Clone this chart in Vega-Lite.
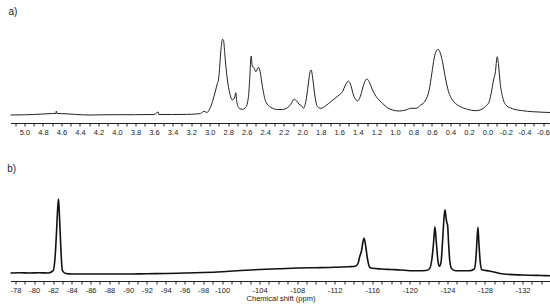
{
  "$schema": "https://vega.github.io/schema/vega-lite/v6.json",
  "padding": {"left": 6.5, "top": 7, "right": 2, "bottom": 2},
  "background": "white",
  "spacing": 28,
  "config": {
    "view": {"stroke": null},
    "font": "Liberation Sans",
    "axis": {
      "domainColor": "#222", "tickColor": "#222", "tickSize": 3, "labelFontSize": 7.5,
      "labelColor": "#222", "labelPadding": 2, "labelOverlap": false, "labelFlush": false,
      "grid": false, "titleFontSize": 7.5, "titleFontWeight": "normal", "titleColor": "#222", "titlePadding": 1
    },
    "title": {"anchor": "start", "fontSize": 10, "fontWeight": "normal", "color": "#222", "offset": 8}
  },
  "datasets": {
    "h": [
      {"ppm": 5.15, "i": 0}, {"ppm": 5.0, "i": 0.2}, {"ppm": 4.9, "i": 0.5}, {"ppm": 4.8, "i": 1.0},
      {"ppm": 4.7, "i": 1.5}, {"ppm": 4.66, "i": 1.6}, {"ppm": 4.655, "i": 4}, {"ppm": 4.65, "i": 1.6},
      {"ppm": 4.55, "i": 1.2}, {"ppm": 4.45, "i": 0.6}, {"ppm": 4.3, "i": 0}, {"ppm": 4.15, "i": 0.2},
      {"ppm": 4.0, "i": 0.3}, {"ppm": 3.8, "i": 0.3}, {"ppm": 3.6, "i": 0.5}, {"ppm": 3.555, "i": 3},
      {"ppm": 3.55, "i": 0.5}, {"ppm": 3.4, "i": 0.5}, {"ppm": 3.25, "i": 0.6}, {"ppm": 3.15, "i": 1},
      {"ppm": 3.1, "i": 1.5}, {"ppm": 3.06, "i": 3.7}, {"ppm": 3.03, "i": 2.5}, {"ppm": 3.0, "i": 6},
      {"ppm": 2.97, "i": 13.3}, {"ppm": 2.94, "i": 23}, {"ppm": 2.916, "i": 31.7}, {"ppm": 2.905, "i": 35},
      {"ppm": 2.897, "i": 41.7}, {"ppm": 2.88, "i": 63}, {"ppm": 2.862, "i": 75.7}, {"ppm": 2.851, "i": 75},
      {"ppm": 2.837, "i": 61.7}, {"ppm": 2.826, "i": 50}, {"ppm": 2.808, "i": 35}, {"ppm": 2.783, "i": 21.7},
      {"ppm": 2.754, "i": 15}, {"ppm": 2.729, "i": 18}, {"ppm": 2.718, "i": 22.3}, {"ppm": 2.707, "i": 13.3},
      {"ppm": 2.681, "i": 6.7}, {"ppm": 2.646, "i": 5.7}, {"ppm": 2.61, "i": 7.7}, {"ppm": 2.581, "i": 18.3},
      {"ppm": 2.567, "i": 36.7}, {"ppm": 2.552, "i": 59}, {"ppm": 2.538, "i": 48.3}, {"ppm": 2.524, "i": 47.7},
      {"ppm": 2.502, "i": 43.3}, {"ppm": 2.473, "i": 47.7}, {"ppm": 2.455, "i": 43.3}, {"ppm": 2.43, "i": 28.3},
      {"ppm": 2.394, "i": 13.3}, {"ppm": 2.34, "i": 7.7}, {"ppm": 2.268, "i": 5.5}, {"ppm": 2.22, "i": 5.5},
      {"ppm": 2.16, "i": 7.3}, {"ppm": 2.124, "i": 10.7}, {"ppm": 2.088, "i": 15.7}, {"ppm": 2.06, "i": 14},
      {"ppm": 2.034, "i": 10.7}, {"ppm": 2.009, "i": 9.3}, {"ppm": 1.987, "i": 6.7}, {"ppm": 1.962, "i": 13.3},
      {"ppm": 1.936, "i": 30}, {"ppm": 1.919, "i": 41.7}, {"ppm": 1.904, "i": 45}, {"ppm": 1.887, "i": 36.7},
      {"ppm": 1.865, "i": 20}, {"ppm": 1.836, "i": 8.3}, {"ppm": 1.8, "i": 6.7}, {"ppm": 1.746, "i": 9.3},
      {"ppm": 1.692, "i": 13.3}, {"ppm": 1.638, "i": 17.3}, {"ppm": 1.602, "i": 20}, {"ppm": 1.566, "i": 23.3},
      {"ppm": 1.53, "i": 30.7}, {"ppm": 1.504, "i": 34}, {"ppm": 1.483, "i": 31.7}, {"ppm": 1.447, "i": 20},
      {"ppm": 1.404, "i": 14}, {"ppm": 1.368, "i": 20}, {"ppm": 1.332, "i": 31.7}, {"ppm": 1.303, "i": 36},
      {"ppm": 1.278, "i": 33.3}, {"ppm": 1.242, "i": 25}, {"ppm": 1.188, "i": 16.7}, {"ppm": 1.134, "i": 11.7},
      {"ppm": 1.08, "i": 7.3}, {"ppm": 1.026, "i": 5}, {"ppm": 0.954, "i": 4}, {"ppm": 0.882, "i": 5},
      {"ppm": 0.828, "i": 6.7}, {"ppm": 0.774, "i": 6.7}, {"ppm": 0.72, "i": 10}, {"ppm": 0.666, "i": 15},
      {"ppm": 0.63, "i": 25}, {"ppm": 0.601, "i": 41.7}, {"ppm": 0.576, "i": 56.7}, {"ppm": 0.551, "i": 64.3},
      {"ppm": 0.533, "i": 65.7}, {"ppm": 0.515, "i": 63.3}, {"ppm": 0.486, "i": 53.3}, {"ppm": 0.457, "i": 38.3},
      {"ppm": 0.421, "i": 23.3}, {"ppm": 0.378, "i": 15}, {"ppm": 0.306, "i": 9}, {"ppm": 0.216, "i": 5.7},
      {"ppm": 0.126, "i": 4.3}, {"ppm": 0.061, "i": 5.7}, {"ppm": 0.018, "i": 9}, {"ppm": -0.018, "i": 13.3},
      {"ppm": -0.046, "i": 25}, {"ppm": -0.065, "i": 35}, {"ppm": -0.083, "i": 41.7}, {"ppm": -0.105, "i": 58.3},
      {"ppm": -0.119, "i": 50}, {"ppm": -0.137, "i": 31.7}, {"ppm": -0.162, "i": 18.3}, {"ppm": -0.198, "i": 10},
      {"ppm": -0.27, "i": 6.3}, {"ppm": -0.378, "i": 4.3}, {"ppm": -0.486, "i": 3.3}, {"ppm": -0.612, "i": 2.7},
      {"ppm": -0.68, "i": 2.5}
    ],
    "f": [
      {"ppm": -77.47, "i": 0}, {"ppm": -78.5, "i": 0.3}, {"ppm": -79.5, "i": 0}, {"ppm": -80.5, "i": 0.2},
      {"ppm": -81.5, "i": 0}, {"ppm": -82.01, "i": 2.3}, {"ppm": -82.23, "i": 17.3}, {"ppm": -82.37, "i": 40.7},
      {"ppm": -82.47, "i": 60.7}, {"ppm": -82.58, "i": 74}, {"ppm": -82.65, "i": 64}, {"ppm": -82.76, "i": 40.7},
      {"ppm": -82.87, "i": 17.3}, {"ppm": -83.0, "i": 2.3}, {"ppm": -83.36, "i": -0.5}, {"ppm": -84, "i": -1},
      {"ppm": -86, "i": -1}, {"ppm": -88, "i": -1}, {"ppm": -90, "i": -1}, {"ppm": -92, "i": -0.7},
      {"ppm": -94, "i": -0.5}, {"ppm": -96, "i": 0}, {"ppm": -98, "i": 0.5}, {"ppm": -100, "i": 1.3},
      {"ppm": -102, "i": 2.5}, {"ppm": -104, "i": 3.5}, {"ppm": -106, "i": 4.2}, {"ppm": -108, "i": 5},
      {"ppm": -110, "i": 5.3}, {"ppm": -112, "i": 5.7}, {"ppm": -113.5, "i": 6.3}, {"ppm": -114.2, "i": 6.7},
      {"ppm": -114.5, "i": 10}, {"ppm": -114.67, "i": 16.7}, {"ppm": -114.85, "i": 22}, {"ppm": -115.0, "i": 31},
      {"ppm": -115.13, "i": 34.7}, {"ppm": -115.28, "i": 28}, {"ppm": -115.49, "i": 14}, {"ppm": -115.73, "i": 5.7},
      {"ppm": -116.0, "i": 4.7}, {"ppm": -117, "i": 4}, {"ppm": -118, "i": 3.5}, {"ppm": -119, "i": 3},
      {"ppm": -120, "i": 2.3}, {"ppm": -121, "i": 2.3}, {"ppm": -121.7, "i": 2.5}, {"ppm": -122.07, "i": 4},
      {"ppm": -122.35, "i": 14}, {"ppm": -122.53, "i": 30.7}, {"ppm": -122.67, "i": 46.3}, {"ppm": -122.82, "i": 30.7},
      {"ppm": -122.99, "i": 12.3}, {"ppm": -123.14, "i": 6.7}, {"ppm": -123.32, "i": 10.7}, {"ppm": -123.5, "i": 34},
      {"ppm": -123.63, "i": 54}, {"ppm": -123.74, "i": 63.3}, {"ppm": -123.85, "i": 55.7}, {"ppm": -123.95, "i": 50},
      {"ppm": -124.02, "i": 48}, {"ppm": -124.12, "i": 30.7}, {"ppm": -124.27, "i": 10.7}, {"ppm": -124.48, "i": 4},
      {"ppm": -124.9, "i": 2.3}, {"ppm": -126.33, "i": 2.3}, {"ppm": -126.86, "i": 4}, {"ppm": -127.03, "i": 14},
      {"ppm": -127.14, "i": 30.7}, {"ppm": -127.25, "i": 45.7}, {"ppm": -127.35, "i": 30.7}, {"ppm": -127.5, "i": 10.7},
      {"ppm": -127.67, "i": 3.3}, {"ppm": -128.46, "i": 2}, {"ppm": -130, "i": -1}, {"ppm": -132, "i": -2},
      {"ppm": -134, "i": -2.5}, {"ppm": -134.98, "i": -2.7}
    ]
  },
  "vconcat": [
    {
      "width": 540, "height": 98,
      "title": {"text": "a)"},
      "data": {"name": "h"},
      "mark": {"type": "line", "color": "#222", "strokeWidth": 1, "interpolate": "monotone"},
      "encoding": {
        "x": {
          "field": "ppm", "type": "quantitative",
          "scale": {"domain": [-0.68, 5.15], "reverse": true, "nice": false, "zero": false},
          "axis": {
            "title": null,
            "values": [5.1,5.0,4.9,4.8,4.7,4.6,4.5,4.4,4.3,4.2,4.1,4.0,3.9,3.8,3.7,3.6,3.5,3.4,3.3,3.2,3.1,3.0,2.9,2.8,2.7,2.6,2.5,2.4,2.3,2.2,2.1,2.0,1.9,1.8,1.7,1.6,1.5,1.4,1.3,1.2,1.1,1.0,0.9,0.8,0.7,0.6,0.5,0.4,0.3,0.2,0.1,0.0,-0.1,-0.2,-0.3,-0.4,-0.5,-0.6],
            "labelExpr": "abs(round(datum.value*10)) % 2 == 0 ? replace(format(datum.value, '.1f'), '\u2212', '-') : ''"
          }
        },
        "y": {
          "field": "i", "type": "quantitative",
          "scale": {"domain": [-8, 90], "nice": false, "zero": false},
          "axis": null
        }
      }
    },
    {
      "width": 540, "height": 99,
      "title": {"text": "b)"},
      "data": {"name": "f"},
      "mark": {"type": "line", "color": "#111", "strokeWidth": 1.6, "interpolate": "monotone"},
      "encoding": {
        "x": {
          "field": "ppm", "type": "quantitative",
          "scale": {"domain": [-134.98, -77.47], "reverse": true, "nice": false, "zero": false},
          "axis": {
            "title": "Chemical shift (ppm)",
            "values": [-78,-79,-80,-81,-82,-83,-84,-85,-86,-87,-88,-89,-90,-91,-92,-93,-94,-95,-96,-97,-98,-99,-100,-101,-102,-103,-104,-105,-106,-107,-108,-109,-110,-111,-112,-113,-114,-115,-116,-117,-118,-119,-120,-121,-122,-123,-124,-125,-126,-127,-128,-129,-130,-131,-132,-133,-134],
            "labelExpr": "((datum.value >= -100 && abs(datum.value) % 2 == 0) || (datum.value <= -104 && abs(datum.value) % 4 == 0)) ? replace(format(datum.value, 'd'), '\u2212', '-') : ''"
          }
        },
        "y": {
          "field": "i", "type": "quantitative",
          "scale": {"domain": [-8, 91], "nice": false, "zero": false},
          "axis": null
        }
      }
    }
  ]
}
